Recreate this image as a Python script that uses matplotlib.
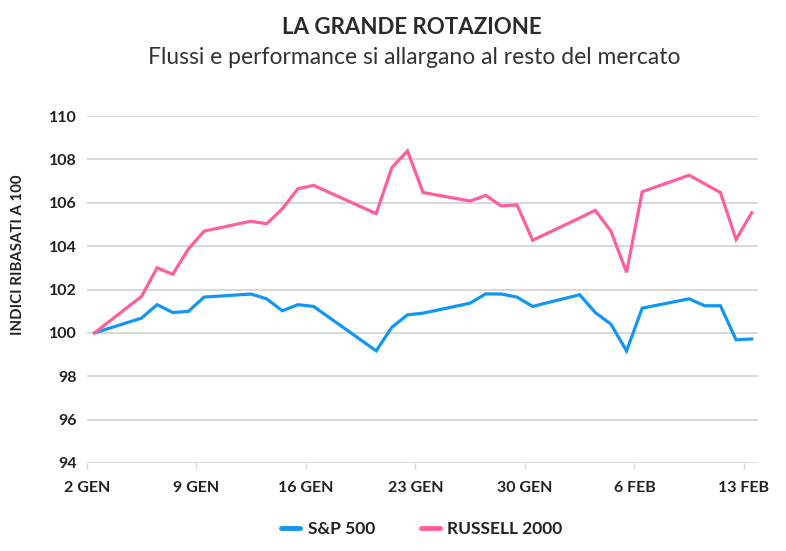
import matplotlib
matplotlib.use("Agg")
import matplotlib.pyplot as plt
import numpy as np
import datetime as dt

# ---- data ----
dates = ["2026-01-02", "2026-01-05", "2026-01-06", "2026-01-07", "2026-01-08", "2026-01-09",
         "2026-01-12", "2026-01-13", "2026-01-14", "2026-01-15", "2026-01-16",
         "2026-01-20", "2026-01-21", "2026-01-22", "2026-01-23",
         "2026-01-26", "2026-01-27", "2026-01-28", "2026-01-29", "2026-01-30",
         "2026-02-02", "2026-02-03", "2026-02-04", "2026-02-05", "2026-02-06",
         "2026-02-09", "2026-02-10", "2026-02-11", "2026-02-12", "2026-02-13"]
sp500 = [100.0, 100.68, 101.30, 100.94, 100.99, 101.65,
         101.79, 101.57, 101.02, 101.30, 101.22,
         99.17, 100.26, 100.83, 100.91,
         101.37, 101.80, 101.79, 101.65, 101.22,
         101.76, 100.94, 100.40, 99.17, 101.14,
         101.57, 101.25, 101.25, 99.68, 99.72]
russell = [100.0, 101.68, 103.00, 102.70, 103.87, 104.69,
           105.15, 105.03, 105.72, 106.65, 106.80,
           105.50, 107.62, 108.39, 106.47,
           106.08, 106.34, 105.85, 105.90, 104.27,
           105.30, 105.65, 104.69, 102.79, 106.51,
           107.27, 106.87, 106.47, 104.31, 105.54]
tick_dates = ["2026-01-02", "2026-01-09", "2026-01-16", "2026-01-23",
              "2026-01-30", "2026-02-06", "2026-02-13"]
tick_labels = ["2 GEN", "9 GEN", "16 GEN", "23 GEN", "30 GEN", "6 FEB", "13 FEB"]
y_ticks = [94, 96, 98, 100, 102, 104, 106, 108, 110]
series_names = ["S&P 500", "RUSSELL 2000"]

# ---- helpers ----
base = dt.date(2026, 1, 2)
def dnum(s):
    return (dt.date.fromisoformat(s) - base).days

x = np.array([dnum(d) for d in dates], dtype=float)
xt = np.array([dnum(d) for d in tick_dates], dtype=float) - 0.5

plt.rcParams['font.family'] = ['Lato', 'DejaVu Sans']

BLUE = '#1296f3'
PINK = '#ff5e9e'
GRID = '#d6d6d6'
TXT = '#222222'

W, H = 786, 551
fig = plt.figure(figsize=(W / 100, H / 100), dpi=100)
ax = fig.add_axes([86.7 / W, 1 - 463 / H, (758 - 86.7) / W, (463 - 116) / H])

ax.plot(x, sp500, color=BLUE, lw=2.3, solid_joinstyle='miter', label=series_names[0], zorder=3)
ax.plot(x, russell, color=PINK, lw=2.3, solid_joinstyle='miter', label=series_names[1], zorder=3)

ax.set_xlim(-0.5, 42.4)
ax.set_ylim(94, 110)
ax.set_yticks(y_ticks)
ax.set_yticklabels([str(v) for v in y_ticks])
ax.set_xticks(xt)
ax.set_xticklabels(tick_labels)

for v in y_ticks:
    ax.axhline(v, color=GRID, lw=1.3, zorder=1)

for s in ax.spines.values():
    s.set_visible(False)

ax.tick_params(axis='y', length=0, pad=7, labelsize=11.5, labelcolor=TXT)
ax.tick_params(axis='x', length=4, width=1, color=GRID, pad=9, labelsize=11.5, labelcolor=TXT)
for lab in ax.get_xticklabels() + ax.get_yticklabels():
    lab.set_fontweight('bold')

fig.text(18 / W, 1 - 255 / H, "INDICI RIBASATI A 100", rotation=90, ha='center', va='center',
         fontsize=10.8, fontweight='bold', color=TXT)

fig.text(412 / W, 1 - 27 / H, "LA GRANDE ROTAZIONE", ha='center', va='center',
         fontsize=16, fontweight='bold', color='#2a2a2a')
fig.text(414 / W, 1 - 58 / H, "Flussi e performance si allargano al resto del mercato",
         ha='center', va='center', fontsize=16.5, color='#333333')

leg = fig.legend(loc='center', bbox_to_anchor=(422 / W, 1 - 529 / H), ncol=2, frameon=False,
                 handlelength=1.1, handletextpad=0.45, columnspacing=2.6,
                 prop={'weight': 'bold', 'size': 12.5})
for t in leg.get_texts():
    t.set_color(TXT)
for l in leg.get_lines():
    l.set_linewidth(3.5)
    l.set_solid_capstyle('round')

fig.savefig("out.png", dpi=100)
